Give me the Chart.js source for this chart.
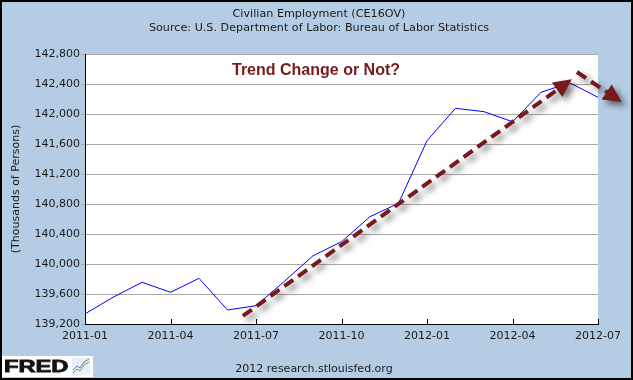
<!DOCTYPE html>
<html>
<head>
<meta charset="utf-8">
<script src="https://cdn.jsdelivr.net/npm/chart.js@4/dist/chart.umd.min.js"></script>
<style>
  html, body { margin: 0; padding: 0; background: #ffffff; }
  #wrap { width: 633px; height: 380px; }
</style>
</head>
<body>
<div id="wrap"><canvas id="fredChart" width="633" height="380"></canvas></div>
<script>
const months = [
  "2011-01", "2011-02", "2011-03", "2011-04", "2011-05", "2011-06",
  "2011-07", "2011-08", "2011-09", "2011-10", "2011-11", "2011-12",
  "2012-01", "2012-02", "2012-03", "2012-04", "2012-05", "2012-06",
  "2012-07"
];
// thousands of persons
const employment = [
  139335, 139560, 139756, 139623, 139809, 139387,
  139444, 139770, 140110, 140297, 140631, 140809,
  141644, 142076, 142031, 141897, 142289, 142417,
  142223
];
const yTicks = [139200, 139600, 140000, 140400, 140800, 141200, 141600, 142000, 142400, 142800];

// the two dashed arrows, [monthIndex, value] pairs
const trendArrow = [[5.54, 139307], [17.08, 142463]];
const turnArrow = [[17.26, 142560], [18.83, 142160]];

const titleLines = [
  "Civilian Employment (CE16OV)",
  "Source: U.S. Department of Labor: Bureau of Labor Statistics"
];
const noteText = "Trend Change or Not?";
const footerText = "2012 research.stlouisfed.org";

const bgBlue = "#b4cde4";
const maroon = "#761a1d";
const axisFont = "DejaVu Sans";

function fmt(n) {
  return n.toLocaleString("en-US");
}

function draw_arrow(ctx, x1, y1, x2, y2) {
  let ang = Math.atan2(y2 - y1, x2 - x1);
  let headLen = 18;
  let headW = 9;
  let bx = x2 - headLen * Math.cos(ang);
  let by = y2 - headLen * Math.sin(ang);

  ctx.save();
  ctx.shadowColor = "rgba(0,0,0,0.55)";
  ctx.shadowBlur = 6;
  ctx.shadowOffsetX = 4;
  ctx.shadowOffsetY = 4;
  ctx.strokeStyle = maroon;
  ctx.fillStyle = maroon;
  ctx.lineWidth = 4;
  ctx.setLineDash([11, 6]);
  ctx.beginPath();
  ctx.moveTo(x1, y1);
  ctx.lineTo(bx + 2 * Math.cos(ang), by + 2 * Math.sin(ang));
  ctx.stroke();
  ctx.setLineDash([]);
  ctx.beginPath();
  ctx.moveTo(x2, y2);
  ctx.lineTo(bx + headW * Math.sin(ang), by - headW * Math.cos(ang));
  ctx.lineTo(bx - headW * Math.sin(ang), by + headW * Math.cos(ang));
  ctx.closePath();
  ctx.fill();
  ctx.restore();
}

const fredDecor = {
  id: "fredDecor",
  beforeDraw(chart) {
    const ctx = chart.ctx;
    const a = chart.chartArea;
    ctx.save();
    ctx.fillStyle = bgBlue;
    ctx.fillRect(0, 0, chart.width, chart.height);
    ctx.fillStyle = "#ffffff";
    ctx.fillRect(a.left, a.top, a.right - a.left, a.bottom - a.top);
    ctx.restore();
  },
  afterDraw(chart) {
    const ctx = chart.ctx;
    const a = chart.chartArea;
    const xs = chart.scales.x;
    const ys = chart.scales.y;

    ctx.save();
    // x ticks point up into the plot
    ctx.strokeStyle = "#000000";
    ctx.lineWidth = 1;
    for (let i = 0; i < months.length; i += 3) {
      let px = Math.round(xs.getPixelForValue(i)) + 0.5;
      ctx.beginPath();
      ctx.moveTo(px, a.bottom);
      ctx.lineTo(px, a.bottom - 5);
      ctx.stroke();
    }

    // titles
    ctx.fillStyle = "#1a1a1a";
    ctx.font = "11.2px '" + axisFont + "'";
    ctx.textAlign = "center";
    ctx.textBaseline = "middle";
    ctx.fillText(titleLines[0], 319, 14);
    ctx.fillText(titleLines[1], 319, 28);
    ctx.font = "11px '" + axisFont + "'";
    ctx.fillText(footerText, 314, 369);

    // note
    ctx.fillStyle = maroon;
    ctx.font = "bold 16px 'Liberation Sans'";
    ctx.fillText(noteText, 316, 71);

    // arrows
    draw_arrow(ctx,
      xs.getPixelForValue(trendArrow[0][0]), ys.getPixelForValue(trendArrow[0][1]),
      xs.getPixelForValue(trendArrow[1][0]), ys.getPixelForValue(trendArrow[1][1]));
    draw_arrow(ctx,
      xs.getPixelForValue(turnArrow[0][0]), ys.getPixelForValue(turnArrow[0][1]),
      xs.getPixelForValue(turnArrow[1][0]), ys.getPixelForValue(turnArrow[1][1]));

    // FRED logo
    ctx.fillStyle = "#ffffff";
    ctx.fillRect(2, 356, 91, 21);
    ctx.save();
    ctx.fillStyle = "#111111";
    ctx.strokeStyle = "#111111";
    ctx.lineWidth = 0.8;
    ctx.font = "bold 16px 'Liberation Sans'";
    ctx.textAlign = "left";
    ctx.textBaseline = "alphabetic";
    ctx.translate(4, 372);
    ctx.scale(1.48, 1);
    ctx.fillText("FRED", 0, 0);
    ctx.strokeText("FRED", 0, 0);
    ctx.restore();
    ctx.fillStyle = "#e8eef3";
    ctx.fillRect(72, 358, 18, 17);
    ctx.lineWidth = 1;
    ctx.strokeStyle = "#6aa84f";
    ctx.beginPath();
    ctx.moveTo(73, 373); ctx.lineTo(77, 369); ctx.lineTo(80, 371); ctx.lineTo(84, 365); ctx.lineTo(89, 362);
    ctx.stroke();
    ctx.strokeStyle = "#5b7fb8";
    ctx.beginPath();
    ctx.moveTo(73, 370); ctx.lineTo(77, 366); ctx.lineTo(80, 368); ctx.lineTo(84, 362); ctx.lineTo(89, 359);
    ctx.stroke();

    // frame
    ctx.strokeStyle = "#000000";
    ctx.lineWidth = 2;
    ctx.strokeRect(1, 1, chart.width - 2, chart.height - 2);
    ctx.restore();
  }
};

new Chart(document.getElementById("fredChart"), {
  type: "line",
  data: {
    labels: months,
    datasets: [
      {
        label: "CE16OV",
        data: employment,
        borderColor: "#0000ff",
        borderWidth: 1,
        pointRadius: 0,
        tension: 0,
        fill: false,
      },
    ],
  },
  options: {
    responsive: false,
    animation: false,
    devicePixelRatio: 1,
    layout: {
      padding: { left: 0, top: 54, right: 35, bottom: 0 },
    },
    plugins: {
      legend: { display: false },
      tooltip: { enabled: false },
      title: { display: false },
    },
    scales: {
      x: {
        offset: false,
        grid: { display: false, drawTicks: false },
        border: { display: true, color: "#000000", width: 1 },
        ticks: {
          autoSkip: false,
          maxRotation: 0,
          padding: 6,
          color: "#1a1a1a",
          font: { family: axisFont, size: 11 },
          callback: function (value, index) {
            return index % 3 === 0 ? months[index] : "";
          },
        },
        afterFit: function (scale) {
          scale.height = 56;
        },
      },
      y: {
        min: yTicks[0],
        max: yTicks[yTicks.length - 1],
        afterBuildTicks: function (scale) {
          scale.ticks = yTicks.map(function (v) { return { value: v }; });
        },
        grid: { color: "#a8a8a8", lineWidth: 1, tickLength: 4 },
        border: { display: true, color: "#000000", width: 1 },
        ticks: {
          padding: 1,
          color: "#1a1a1a",
          font: { family: axisFont, size: 11 },
          callback: function (value) {
            return fmt(value);
          },
        },
        title: {
          display: true,
          text: "(Thousands of Persons)",
          color: "#1a1a1a",
          font: { family: axisFont, size: 11 },
          padding: { top: 10, bottom: 0 },
        },
        afterFit: function (scale) {
          scale.width = 85;
        },
      },
    },
  },
  plugins: [fredDecor],
});
</script>
</body>
</html>
